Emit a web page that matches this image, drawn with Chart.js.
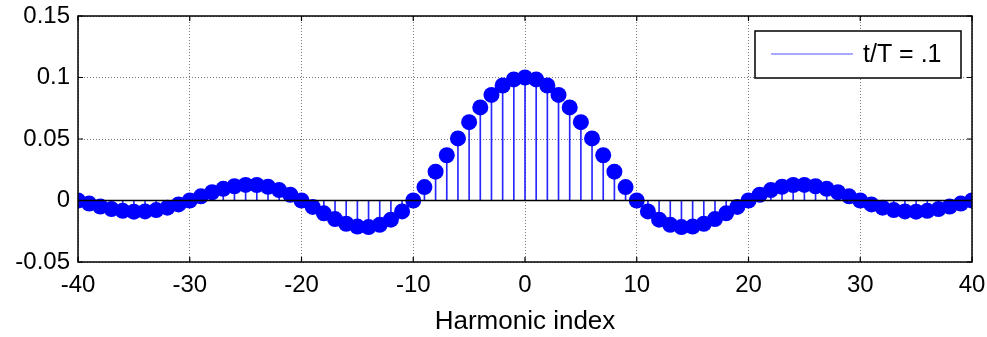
<!DOCTYPE html>
<html>
<head>
<meta charset="utf-8">
<script src="https://cdn.jsdelivr.net/npm/chart.js@4"></script>
<style>
  body { margin: 0; background: #fff; }
  #wrap { width: 987px; height: 337px; }
</style>
</head>
<body>
<div id="wrap"><canvas id="chart" width="987" height="337"></canvas></div>
<script>
// harmonic index n and coefficient values
const harmonics = [-40, -39, -38, -37, -36, -35, -34, -33, -32, -31,
  -30, -29, -28, -27, -26, -25, -24, -23, -22, -21,
  -20, -19, -18, -17, -16, -15, -14, -13, -12, -11,
  -10, -9, -8, -7, -6, -5, -4, -3, -2, -1,
  0,
  1, 2, 3, 4, 5, 6, 7, 8, 9, 10,
  11, 12, 13, 14, 15, 16, 17, 18, 19, 20,
  21, 22, 23, 24, 25, 26, 27, 28, 29, 30,
  31, 32, 33, 34, 35, 36, 37, 38, 39, 40];

const coeffs = [0, -0.0025, -0.0049, -0.0070, -0.0084, -0.0091, -0.0089, -0.0078, -0.0058, -0.0032,
  0, 0.0034, 0.0067, 0.0095, 0.0116, 0.0127, 0.0126, 0.0112, 0.0085, 0.0047,
  0, -0.0052, -0.0104, -0.0151, -0.0189, -0.0212, -0.0216, -0.0198, -0.0156, -0.0089,
  0, 0.0109, 0.0234, 0.0368, 0.0505, 0.0637, 0.0757, 0.0858, 0.0935, 0.0984,
  0.1,
  0.0984, 0.0935, 0.0858, 0.0757, 0.0637, 0.0505, 0.0368, 0.0234, 0.0109, 0,
  -0.0089, -0.0156, -0.0198, -0.0216, -0.0212, -0.0189, -0.0151, -0.0104, -0.0052, 0,
  0.0047, 0.0085, 0.0112, 0.0126, 0.0127, 0.0116, 0.0095, 0.0067, 0.0034, 0,
  -0.0032, -0.0058, -0.0078, -0.0089, -0.0091, -0.0084, -0.0070, -0.0049, -0.0025, 0];

const xTicks = [-40, -30, -20, -10, 0, 10, 20, 30, 40];
const yTicks = [-0.05, 0, 0.05, 0.1, 0.15];
const seriesLabel = "t/T = .1";
const xTitle = "Harmonic index";

const FONT = "'Liberation Sans', Arial, sans-serif";

const points = harmonics.map((n, i) => ({ x: n, y: coeffs[i] }));

// box around the axes, inward tick marks and the legend (matlab look)
const framePlugin = {
  id: "frame",
  afterDraw(chart) {
    const { ctx, chartArea: a, scales } = chart;
    ctx.save();
    ctx.strokeStyle = "#000";
    ctx.lineWidth = 1.5;
    ctx.strokeRect(a.left, a.top, a.right - a.left, a.bottom - a.top);

    ctx.lineWidth = 1.2;
    const len = 5;
    ctx.beginPath();
    xTicks.forEach(v => {
      const px = scales.x.getPixelForValue(v);
      ctx.moveTo(px, a.bottom); ctx.lineTo(px, a.bottom - len);
      ctx.moveTo(px, a.top); ctx.lineTo(px, a.top + len);
    });
    yTicks.forEach(v => {
      const py = scales.y.getPixelForValue(v);
      ctx.moveTo(a.left, py); ctx.lineTo(a.left + len, py);
      ctx.moveTo(a.right, py); ctx.lineTo(a.right - len, py);
    });
    ctx.stroke();

    // legend
    const bx = a.right - 217, by = a.top + 15, bw = 206, bh = 47;
    ctx.fillStyle = "#fff";
    ctx.fillRect(bx, by, bw, bh);
    ctx.lineWidth = 1.5;
    ctx.strokeStyle = "#000";
    ctx.strokeRect(bx, by, bw, bh);
    ctx.strokeStyle = "rgba(0,0,255,0.45)";
    ctx.lineWidth = 1.5;
    ctx.beginPath();
    ctx.moveTo(bx + 16, by + 23);
    ctx.lineTo(bx + 98, by + 23);
    ctx.stroke();
    ctx.fillStyle = "#000";
    ctx.font = "25px " + FONT;
    ctx.textBaseline = "middle";
    ctx.textAlign = "left";
    ctx.fillText(seriesLabel, bx + 108, by + 24);
    ctx.restore();
  }
};

const config = {
  type: "scatter",
  data: {
    datasets: [
      {
        // zero baseline of the stem plot
        type: "line",
        data: [{ x: harmonics[0], y: 0 }, { x: harmonics[harmonics.length - 1], y: 0 }],
        borderColor: "#000",
        borderWidth: 1.5,
        pointRadius: 0,
        order: 0
      },
      {
        label: seriesLabel,
        type: "scatter",
        data: points,
        backgroundColor: "#0000ff",
        borderWidth: 0,
        pointRadius: 8,
        order: 1
      },
      {
        // stems
        type: "bar",
        data: points,
        backgroundColor: "rgba(0,0,255,0.85)",
        barThickness: 1,
        borderWidth: 0,
        order: 2
      }
    ]
  },
  options: {
    responsive: false,
    animation: false,
    layout: { padding: { top: 16, right: 15, left: 0, bottom: 0 } },
    plugins: {
      legend: { display: false },
      tooltip: { enabled: false }
    },
    scales: {
      x: {
        type: "linear",
        min: -40,
        max: 40,
        offset: false,
        afterBuildTicks: s => { s.ticks = xTicks.map(v => ({ value: v })); },
        afterFit: s => { s.height = 75; s.paddingLeft = 0; s.paddingRight = 0; },
        ticks: {
          color: "#000",
          padding: 9,
          maxRotation: 0,
          font: { family: FONT, size: 24 },
          callback: v => String(v)
        },
        grid: { color: "#777", lineWidth: 1, drawTicks: false, offset: false },
        border: { display: false, dash: [1, 2] },
        title: {
          display: true,
          text: xTitle,
          color: "#000",
          font: { family: FONT, size: 26, lineHeight: 1.0 },
          padding: { top: 0, bottom: 2 }
        }
      },
      y: {
        type: "linear",
        min: -0.05,
        max: 0.15,
        afterBuildTicks: s => { s.ticks = yTicks.map(v => ({ value: v })); },
        afterFit: s => { s.width = 78; s.paddingTop = 0; s.paddingBottom = 0; },
        ticks: {
          color: "#000",
          padding: 8,
          font: { family: FONT, size: 24 },
          callback: v => String(Number(v.toFixed(2)))
        },
        grid: { color: "#777", lineWidth: 1, drawTicks: false },
        border: { display: false, dash: [1, 2] }
      }
    }
  },
  plugins: [framePlugin]
};

const myChart = new Chart(document.getElementById("chart"), config);
</script>
</body>
</html>
